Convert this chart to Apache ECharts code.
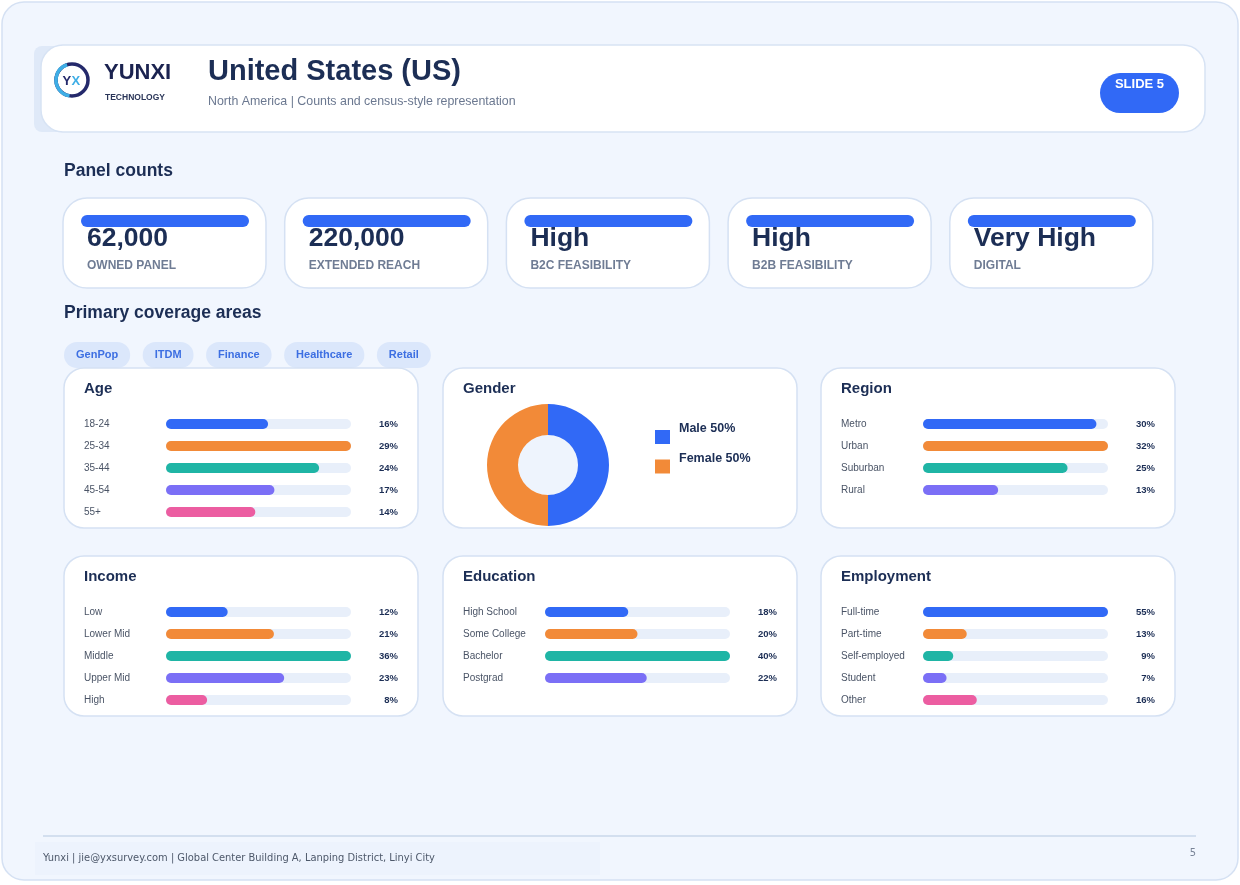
<!DOCTYPE html>
<html>
<head>
<meta charset="utf-8">
<script src="https://cdn.jsdelivr.net/npm/echarts@6/dist/echarts.min.js"></script>
<style>
  html, body { margin: 0; padding: 0; background: #fff; }
  #main { width: 1240px; height: 885px; }
</style>
</head>
<body>
<div id="main"></div>
<script>
// data
const kpiValues = ['62,000', '220,000', 'High', 'High', 'Very High'];
const kpiLabels = ['OWNED PANEL', 'EXTENDED REACH', 'B2C FEASIBILITY', 'B2B FEASIBILITY', 'DIGITAL'];
const tags = ['GenPop', 'ITDM', 'Finance', 'Healthcare', 'Retail'];

const ageLabels = ['18-24', '25-34', '35-44', '45-54', '55+'];
const ageValues = [16, 29, 24, 17, 14];
const genderLabels = ['Male', 'Female'];
const genderValues = [50, 50];
const regionLabels = ['Metro', 'Urban', 'Suburban', 'Rural'];
const regionValues = [30, 32, 25, 13];
const incomeLabels = ['Low', 'Lower Mid', 'Middle', 'Upper Mid', 'High'];
const incomeValues = [12, 21, 36, 23, 8];
const educationLabels = ['High School', 'Some College', 'Bachelor', 'Postgrad'];
const educationValues = [18, 20, 40, 22];
const employmentLabels = ['Full-time', 'Part-time', 'Self-employed', 'Student', 'Other'];
const employmentValues = [55, 13, 9, 7, 16];

const barColors = ['#3169f6', '#f28a38', '#1fb5a5', '#7b6ff6', '#ec5da1'];
const navy = '#1c2e55';
const FONT = 'Liberation Sans, Arial, sans-serif';
const FOOT_FONT = 'DejaVu Sans Condensed, DejaVu Sans, sans-serif';

const chart = echarts.init(document.getElementById('main'));

// small helpers for the slide decoration
const rect = (x, y, w, h, r, fill, stroke, extra) => ({
  type: 'rect', shape: { x, y, width: w, height: h, r },
  style: Object.assign({ fill, stroke: stroke || null, lineWidth: stroke ? 1.5 : 0 }, extra || {}),
  silent: true
});
const txt = (text, x, y, size, color, weight, extra) => ({
  type: 'text',
  style: Object.assign({
    text, x, y, fill: color, fontSize: size, fontWeight: weight || 'normal',
    fontFamily: FONT, align: 'left', verticalAlign: 'middle'
  }, extra || {}),
  silent: true
});

const gfx = [];
// outer frame
gfx.push(rect(2, 2, 1236, 878, 22, '#f1f6fe', '#d5e1f3'));
// header card (with the little tab peeking out on the left)
gfx.push(rect(34, 46, 40, 86, 8, '#dfe9f8'));
gfx.push(rect(41, 45, 1164, 87, 22, '#ffffff', '#d7e3f4'));
// logo
gfx.push({ type: 'circle', shape: { cx: 72, cy: 80, r: 16 },
  style: { stroke: '#24296b', lineWidth: 3.5, fill: null }, silent: true });
gfx.push({ type: 'arc', shape: { cx: 72, cy: 80, r: 16, startAngle: Math.PI * 0.55, endAngle: Math.PI * 1.4, clockwise: true },
  style: { stroke: '#3eaee6', lineWidth: 3.5, fill: null }, silent: true });
gfx.push(txt('Y', 62.5, 81, 13, '#24296b', 'bold'));
gfx.push(txt('X', 71.5, 81, 13, '#3eaee6', 'bold'));
gfx.push(txt('YUNXI', 104, 73, 22, '#1b2350', 'bold'));
gfx.push(txt('TECHNOLOGY', 105, 98, 8.5, '#2a3558', 'bold'));
// title
gfx.push(txt('United States (US)', 208, 72, 29, navy, 'bold'));
gfx.push(txt('North America | Counts and census-style representation', 208, 102, 12.4, '#6b7890'));
// slide pill
gfx.push(rect(1100, 73, 79, 40, 20, '#3169f6'));
gfx.push(txt('SLIDE 5', 1139.5, 84, 13, '#ffffff', 'bold', { align: 'center' }));

// section titles
gfx.push(txt('Panel counts', 64, 171, 17.5, navy, 'bold'));
gfx.push(txt('Primary coverage areas', 64, 313, 17.5, navy, 'bold'));

// KPI cards
kpiValues.forEach((v, i) => {
  const x = 63 + i * 221.7;
  gfx.push(rect(x, 198, 203, 90, 24, '#ffffff', '#d5e1f3'));
  gfx.push(rect(x + 18, 215, 168, 12, 6, '#3169f6'));
  gfx.push(txt(v, x + 24, 239, 26.5, navy, 'bold'));
  gfx.push(txt(kpiLabels[i], x + 24, 266, 12, '#6f7c94', 'bold'));
});

// coverage tags
const measure = document.createElement('canvas').getContext('2d');
measure.font = 'bold 11px Liberation Sans';
let tagX = 64;
tags.forEach(t => {
  const w = measure.measureText(t).width + 24;
  gfx.push(rect(tagX, 342, w, 26, 13, '#dbe7fb'));
  gfx.push(txt(t, tagX + w / 2, 355, 11, '#3d6fe2', 'bold', { align: 'center' }));
  tagX += w + 12.5;
});

// demographic panels
const panels = [
  { title: 'Age', labels: ageLabels, values: ageValues, x: 64, y: 368 },
  { title: 'Gender', x: 443, y: 368 },
  { title: 'Region', labels: regionLabels, values: regionValues, x: 821, y: 368 },
  { title: 'Income', labels: incomeLabels, values: incomeValues, x: 64, y: 556 },
  { title: 'Education', labels: educationLabels, values: educationValues, x: 443, y: 556 },
  { title: 'Employment', labels: employmentLabels, values: employmentValues, x: 821, y: 556 }
];
panels.forEach(p => {
  gfx.push(rect(p.x, p.y, 354, 160, 20, '#ffffff', '#d5e1f3'));
  gfx.push(txt(p.title, p.x + 20, p.y + 21, 15, navy, 'bold'));
});
// donut hole
gfx.push({ type: 'circle', shape: { cx: 548, cy: 465, r: 30 }, style: { fill: '#eef4fd' }, silent: true });

// footer
gfx.push({ type: 'line', shape: { x1: 43, y1: 836, x2: 1196, y2: 836 }, style: { stroke: '#d3dfef', lineWidth: 2 }, silent: true });
gfx.push(rect(35, 842, 565, 33, 0, '#edf3fd'));
gfx.push(txt('Yunxi | jie@yxsurvey.com | Global Center Building A, Lanping District, Linyi City', 43, 858, 11, '#4d586a', 'normal',
  { fontFamily: FOOT_FONT }));
gfx.push(txt('5', 1196, 853, 11, '#7a8598', 'normal', { align: 'right', fontFamily: FOOT_FONT }));

// bar panels -> grids
const grid = [], xAxis = [], yAxis = [], series = [];
panels.filter(p => p.values).forEach((p, i) => {
  const max = Math.max(...p.values);
  grid.push({ left: p.x + 102, top: p.y + 45, width: 185, height: p.values.length * 22 });
  xAxis.push({ gridIndex: i, type: 'value', min: 0, max: max, show: false });
  yAxis.push({
    gridIndex: i, type: 'category', data: p.labels, inverse: true,
    axisLine: { show: false }, axisTick: { show: false },
    axisLabel: { align: 'left', margin: 82, color: '#4a5466', fontSize: 10, fontFamily: FONT, padding: [0, 0, 5, 0] }
  });
  yAxis.push({
    gridIndex: i, type: 'category', position: 'right', data: p.values.map(v => v + '%'), inverse: true,
    axisLine: { show: false }, axisTick: { show: false },
    axisLabel: { align: 'right', margin: 47, color: navy, fontSize: 9.5, fontWeight: 'bold', fontFamily: FONT, padding: [0, 0, 4, 0] }
  });
  series.push({
    type: 'bar', xAxisIndex: i, yAxisIndex: i * 2, data: p.values.map(() => max),
    barWidth: 10, itemStyle: { color: '#e8effa', borderRadius: 5 }, silent: true, z: 2
  });
  series.push({
    type: 'bar', xAxisIndex: i, yAxisIndex: i * 2, barGap: '-100%', barWidth: 10,
    data: p.values.map((v, k) => ({ value: v, itemStyle: { color: barColors[k] } })),
    itemStyle: { borderRadius: 5 }, silent: true, z: 3
  });
});

// gender donut
series.push({
  type: 'pie', center: [548, 465], radius: [30, 61], startAngle: 90, clockwise: true,
  label: { show: false }, labelLine: { show: false }, silent: true,
  data: genderLabels.map((n, k) => ({ name: n, value: genderValues[k], itemStyle: { color: barColors[k] } }))
});

// one legend per slice so each square sits exactly where the slide puts it
const legend = genderLabels.map((n, k) => ({
  data: [n], orient: 'vertical', left: 655, top: 422.5 + k * 29.5, icon: 'rect',
  itemWidth: 15, itemHeight: 14, selectedMode: false, padding: 0,
  formatter: name => '{t|' + name + ' ' + genderValues[genderLabels.indexOf(name)] + '%}',
  textStyle: {
    rich: { t: { color: navy, fontSize: 12.5, fontWeight: 'bold', fontFamily: FONT, padding: [0, 0, 16, 4] } }
  }
}));

chart.setOption({
  animation: false,
  backgroundColor: '#ffffff',
  graphic: { elements: gfx },
  grid, xAxis, yAxis, series, legend
});
</script>
</body>
</html>
